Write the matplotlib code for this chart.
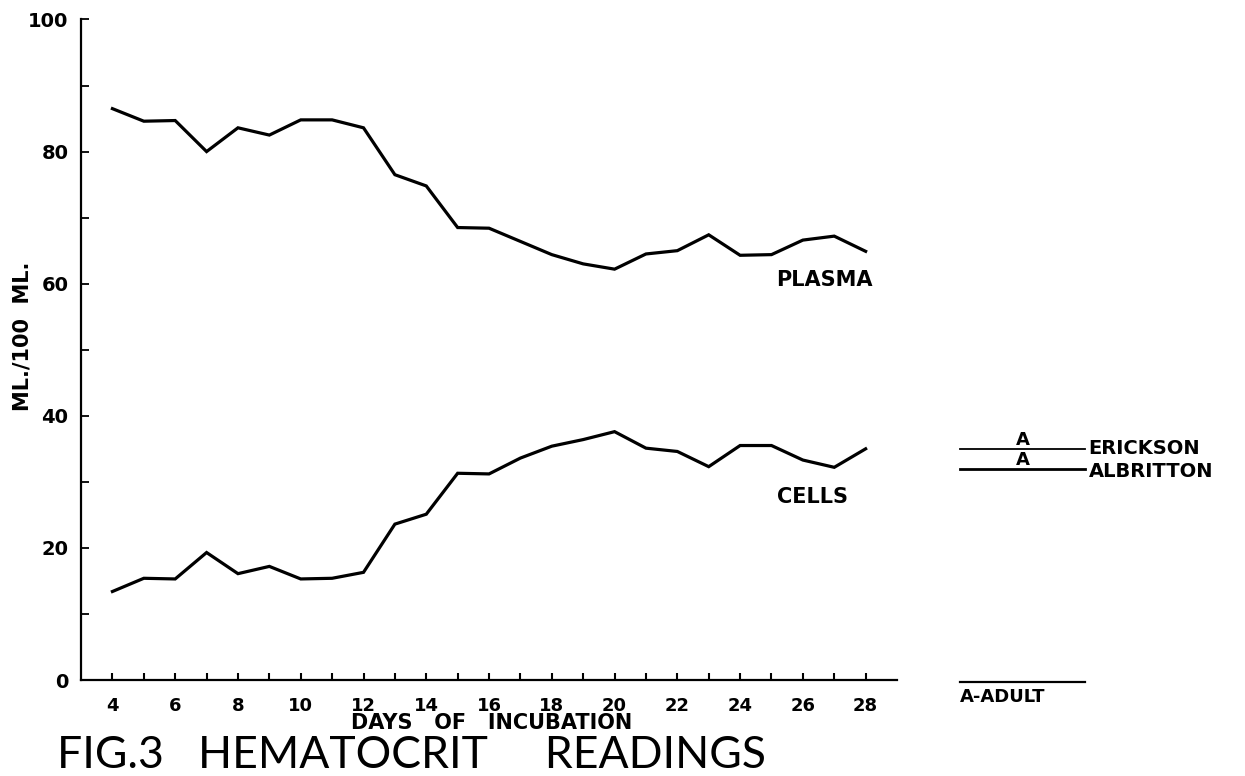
import matplotlib.pyplot as plt
import numpy as np

# hematocrit readings, ml per 100 ml, days 4..28 of incubation
days = list(range(4, 29))
plasma = [86.5, 84.6, 84.7, 80.0, 83.6, 82.5, 84.8, 84.8, 83.6, 76.5, 74.8, 68.5, 68.4,
          66.4, 64.4, 63.0, 62.2, 64.5, 65.0, 67.4, 64.3, 64.4, 66.6, 67.2, 64.9]
cells = [13.4, 15.4, 15.3, 19.3, 16.1, 17.2, 15.3, 15.4, 16.3, 23.6, 25.1, 31.3, 31.2,
         33.6, 35.4, 36.4, 37.6, 35.1, 34.6, 32.3, 35.5, 35.5, 33.3, 32.2, 35.0]

# adult reference values
adult_names = ['ERICKSON', 'ALBRITTON']
adult_values = [35, 32]
adult_span = [31, 35]

xticks = list(range(4, 29))
xlabels = [str(d) if d % 2 == 0 else '' for d in xticks]
yticks = [0, 20, 40, 60, 80, 100]

fig = plt.figure(figsize=(12.45, 7.76), dpi=100)
ax = fig.add_axes([0.0651, 0.1237, 0.6554, 0.8512])

ax.plot(days, plasma, color='k', lw=2.3, solid_joinstyle='miter')
ax.plot(days, cells, color='k', lw=2.3, solid_joinstyle='miter')

ax.set_xlim(3, 29); ax.set_ylim(0, 100)
for s in ['top', 'right']:
    ax.spines[s].set_visible(False)
for s in ['left', 'bottom']:
    ax.spines[s].set_linewidth(1.6)

ax.set_xticks(xticks)
ax.set_xticklabels(xlabels, fontsize=13, fontweight='bold')
ax.set_yticks(yticks)
ax.set_yticklabels([str(v) for v in yticks], fontsize=14, fontweight='bold')
ax.set_yticks(range(10, 100, 20), minor=True)
ax.tick_params(axis='x', direction='in', length=5, width=1.5, pad=12)
ax.tick_params(axis='y', which='both', direction='in', length=6, width=1.3, pad=9)

ax.text(26.67, 60.6, 'PLASMA', fontsize=15, fontweight='bold', ha='center', va='center')
ax.text(26.3, 27.7, 'CELLS', fontsize=15, fontweight='bold', ha='center', va='center')

# adult values to the right of the axes
for name, v, lw in zip(adult_names, adult_values, [1.3, 2.0]):
    ax.plot(adult_span, [v, v], color='k', lw=lw, clip_on=False)
    ax.text(33, v, 'A', fontsize=13, fontweight='bold', ha='center', va='bottom', clip_on=False)
ax.text(35.1, adult_values[0], adult_names[0], fontsize=14, fontweight='bold', va='center')
ax.text(35.1, adult_values[1] - 0.4, adult_names[1], fontsize=14, fontweight='bold', va='center')
ax.plot(adult_span, [-0.25, -0.25], color='k', lw=1.6, clip_on=False)
ax.text(31, -1.2, 'A-ADULT', fontsize=13, fontweight='bold', va='top', clip_on=False)

fig.text(0.0177, 0.566, 'ML./100  ML.', rotation=90, fontsize=15, fontweight='bold',
         ha='center', va='center')
fig.text(0.395, 0.068, 'DAYS   OF   INCUBATION', fontsize=15, fontweight='bold',
         ha='center', va='center')
fig.text(0.0458, 0.027, 'FIG.3   HEMATOCRIT     READINGS', fontsize=32, fontweight='normal',
         family=['Lato', 'DejaVu Sans'], ha='left', va='center')

plt.savefig('out.png', dpi=100, facecolor='white')
plt.close()
